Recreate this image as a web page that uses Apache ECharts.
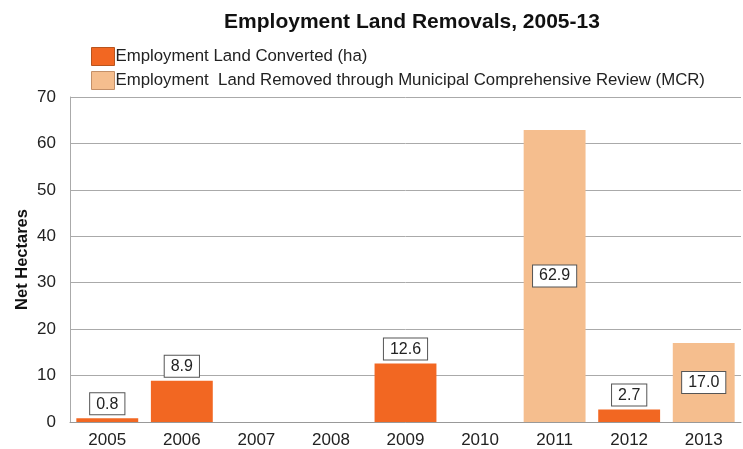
<!DOCTYPE html>
<html>
<head>
<meta charset="utf-8">
<script src="https://cdn.jsdelivr.net/npm/echarts@6/dist/echarts.min.js"></script>
<style>
  html, body { margin: 0; padding: 0; background: #fff; }
  #chart { width: 743px; height: 449px; }
</style>
</head>
<body>
<div id="chart"></div>
<script>
// Years on the category axis
const years = ['2005', '2006', '2007', '2008', '2009', '2010', '2011', '2012', '2013'];
// Net hectares per year; '-' marks a year with no value for that series
const converted = [0.8, 8.9, '-', '-', 12.6, '-', '-', 2.7, '-'];
const removedMCR = ['-', '-', '-', '-', '-', '-', 62.9, '-', 17.0];
const seriesNames = [
  'Employment Land Converted (ha)',
  'Employment  Land Removed through Municipal Comprehensive Review (MCR)'
];
const yTicks = { min: 0, max: 70, interval: 10 };

const font = "'Liberation Sans', Arial, sans-serif";
const orange = '#F26722';
const peach = '#F5BE8E';
const boxLabel = {
  show: true,
  formatter: p => p.value.toFixed(1),
  fontFamily: font,
  fontSize: 16,
  color: '#222',
  backgroundColor: '#fff',
  borderColor: '#555',
  borderWidth: 1,
  padding: [3, 6, 2, 6]
};

const chart = echarts.init(document.getElementById('chart'));
chart.setOption({
  animation: false,
  title: {
    text: 'Employment Land Removals, 2005-13',
    left: 407,
    textAlign: 'center',
    top: 7,
    textStyle: { fontFamily: font, fontSize: 21, fontWeight: 'bold', color: '#111' }
  },
  legend: {
    orient: 'vertical',
    left: 86,
    top: 42,
    itemWidth: 23,
    itemHeight: 18,
    itemGap: 5,
    icon: 'rect',
    textStyle: { fontFamily: font, fontSize: 16.8, color: '#222', padding: [0, 0, 0, -4] },
    data: [
      { name: seriesNames[0], itemStyle: { color: orange, borderColor: '#b8541e', borderWidth: 1 } },
      { name: seriesNames[1], itemStyle: { color: peach, borderColor: '#c49068', borderWidth: 1 } }
    ]
  },
  grid: { left: 70, right: 2, top: 97, bottom: 27, containLabel: false },
  xAxis: {
    type: 'category',
    data: years,
    axisLine: { lineStyle: { color: '#999' } },
    axisTick: { show: false },
    axisLabel: { fontFamily: font, fontSize: 17, color: '#222', margin: 10 }
  },
  yAxis: {
    type: 'value',
    min: yTicks.min,
    max: yTicks.max,
    interval: yTicks.interval,
    name: 'Net Hectares',
    nameLocation: 'middle',
    nameGap: 39,
    nameMoveOverlap: false,
    nameTextStyle: { fontFamily: font, fontSize: 16.5, fontWeight: 'bold', color: '#111' },
    axisLine: { show: true, lineStyle: { color: '#aaa' } },
    axisTick: { show: false },
    splitLine: { lineStyle: { color: '#aaa' } },
    axisLabel: { fontFamily: font, fontSize: 17, color: '#222', margin: 14 }
  },
  series: [
    {
      name: seriesNames[0],
      type: 'bar',
      data: converted,
      barWidth: '83%',
      barGap: '-100%',
      itemStyle: { color: orange },
      label: Object.assign({}, boxLabel, { position: 'top', distance: 4 })
    },
    {
      name: seriesNames[1],
      type: 'bar',
      data: removedMCR,
      barWidth: '83%',
      barGap: '-100%',
      itemStyle: { color: peach },
      label: Object.assign({}, boxLabel, { position: 'inside' })
    }
  ]
});
</script>
</body>
</html>
